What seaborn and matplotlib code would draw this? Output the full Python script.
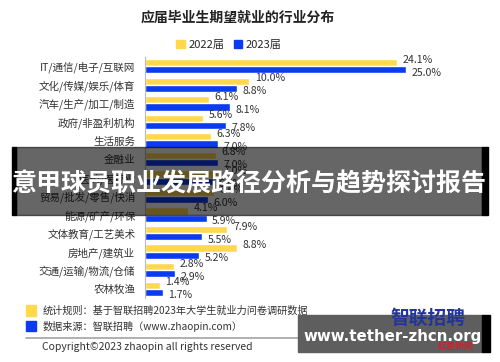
import matplotlib
matplotlib.use("Agg")
import matplotlib.pyplot as plt
import matplotlib.patches as mpatches
import seaborn as sns
import pandas as pd
import numpy as np

categories = ["IT/通信/电子/互联网", "文化/传媒/娱乐/体育", "汽车/生产/加工/制造", "政府/非盈利机构",
              "生活服务", "金融业", "医药/医疗业", "贸易/批发/零售/快消", "能源/矿产/环保",
              "文体教育/工艺美术", "房地产/建筑业", "交通/运输/物流/仓储", "农林牧渔"]
v2022 = [24.1, 10.0, 6.1, 5.6, 6.3, 6.8, 7.0, 6.6, 4.1, 7.9, 8.8, 2.8, 1.4]
v2023 = [25.0, 8.8, 8.1, 7.8, 7.0, 7.0, 6.5, 6.0, 5.9, 5.5, 5.2, 2.9, 1.7]
years = ["2022届", "2023届"]
colors = ["#FFD84D", "#0B3BF0"]

sns.set_theme(style="white")
plt.rcParams['font.family'] = ['Noto Sans CJK SC', 'DejaVu Sans']

df = pd.DataFrame({
    "cat": categories * 2,
    "val": v2022 + v2023,
    "year": [years[0]] * len(categories) + [years[1]] * len(categories),
})

W, H = 500, 362
fig = plt.figure(figsize=(5, 3.62), dpi=100)
def fx(x): return x / W
def fy(y): return 1 - y / H

ax = fig.add_axes([fx(145), fy(298), fx(489.5) - fx(145), fy(57) - fy(298)])
sns.barplot(data=df, y="cat", x="val", hue="year", palette=colors, orient="h",
            ax=ax, legend=False, width=0.78, saturation=1)
ax.set_xlim(0, 33)
ax.set_ylim(len(categories) - 0.5, -0.5)
ax.set_xlabel("")
ax.set_ylabel("")
ax.set_xticks([])
for s in ["top", "right", "bottom"]:
    ax.spines[s].set_visible(False)
ax.spines["left"].set_color("#bbbbbb")
ax.spines["left"].set_linewidth(0.8)
ax.tick_params(axis="y", length=0, pad=7, labelsize=7.6, labelcolor="#333333")
ax.set_yticks(np.arange(-0.5, len(categories) + 0.5, 1), minor=True)
ax.tick_params(axis="y", which="minor", length=3, color="#bbbbbb", width=0.8)

# value labels
for i, (a, b) in enumerate(zip(v2022, v2023)):
    ax.annotate(f"{a:.1f}%", (a, i - 0.2), xytext=(4, 2), textcoords="offset points",
                fontsize=7.6, color="#333333", va="center", ha="left")
    ax.annotate(f"{b:.1f}%", (b, i + 0.2), xytext=(4, -2), textcoords="offset points",
                fontsize=7.6, color="#333333", va="center", ha="left")

# title
fig.text(fx(238), fy(18), "应届毕业生期望就业的行业分布", ha="center", va="center",
         fontsize=10, fontweight="bold", color="#222222")
# legend
handles = [mpatches.Patch(color=c, label=y) for c, y in zip(colors, years)]
fig.legend(handles=handles, loc="center", bbox_to_anchor=(fx(229), fy(45)), ncol=2,
           frameon=False, fontsize=8, handlelength=0.8, handleheight=0.8,
           handletextpad=0.3, columnspacing=0.8)

# footer
fig.patches.append(mpatches.Rectangle((fx(26), fy(316)), fx(10), 11 / H, color=colors[0],
                                      transform=fig.transFigure))
fig.patches.append(mpatches.Rectangle((fx(26), fy(331)), fx(10), 10 / H, color=colors[1],
                                      transform=fig.transFigure))
fig.text(fx(43), fy(311), "统计规则：基于智联招聘2023年大学生就业力问卷调研数据", fontsize=7.3,
         va="center", ha="left", color="#333333")
fig.text(fx(43), fy(326), "数据来源：智联招聘（www.zhaopin.com）", fontsize=7.3,
         va="center", ha="left", color="#333333")
fig.add_artist(plt.Line2D([fx(26), fx(482)], [fy(337.5), fy(337.5)], color="#aaaaaa",
                          lw=1.3, transform=fig.transFigure))
fig.text(fx(42), fy(347), "Copyright©2023 zhaopin all rights reserved", fontsize=7.5,
         va="center", ha="left", color="#333333")

# overlay banner
fig.patches.append(mpatches.Rectangle((fx(16), fy(215)), fx(466), 68 / H, color="black",
                                      alpha=0.6, transform=fig.transFigure, zorder=10))
for x0, w in [(12, 4), (482, 6)]:
    fig.patches.append(mpatches.Rectangle((fx(x0), fy(215)), fx(w), 68 / H, color="black",
                                          transform=fig.transFigure, zorder=10))
fig.text(fx(249), fy(184), "意甲球员职业发展路径分析与趋势探讨报告", fontsize=18,
         fontweight="bold", color="white", ha="center", va="center", zorder=11)

# watermark box
fig.patches.append(mpatches.Rectangle((fx(298), fy(352)), fx(184), 37 / H, color="#5e5e5e",
                                      transform=fig.transFigure, zorder=10))
fig.patches.append(mpatches.Rectangle((fx(482), fy(352)), fx(8), 37 / H, color="black",
                                      transform=fig.transFigure, zorder=10))
fig.text(fx(428), fy(318), "智联招聘", fontsize=13.5, fontweight="bold", va="center",
         ha="center", color="#23359a", zorder=12)
fig.text(fx(393), fy(337), "www.tether-zhcn.org", fontsize=10.8, fontweight="bold",
         color="white", ha="center", va="center", zorder=11, family="DejaVu Sans")
fig.text(fx(456), fy(347), "红星新闻", fontsize=6.5, color="#c0282d", ha="center",
         va="center", zorder=11, fontweight="bold")

fig.savefig("out.png", dpi=100)
